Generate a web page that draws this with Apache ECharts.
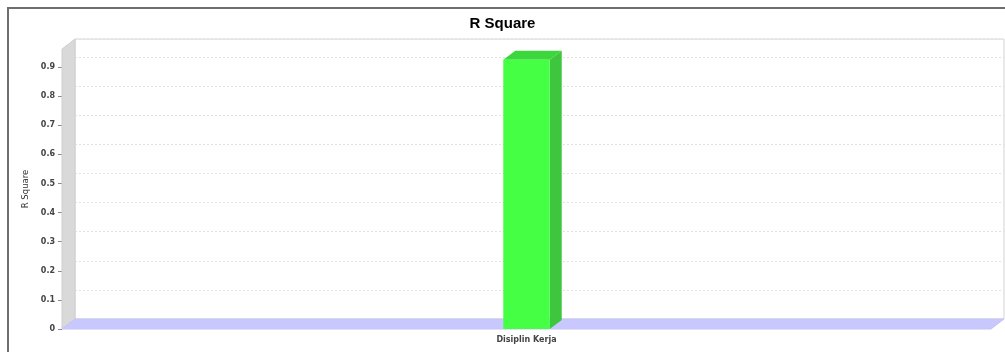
<!DOCTYPE html>
<html>
<head>
<meta charset="utf-8">
<style>html,body{margin:0;padding:0;background:#fff}#c{width:1005px;height:352px}</style>
<script src="https://cdn.jsdelivr.net/npm/echarts@6/dist/echarts.min.js"></script>
</head>
<body>
<div id="c"></div>
<script>
const chartTitle = 'R Square';
const axisTitle = 'R Square';
const categories = ['Disiplin Kerja'];
const rSquare = [0.925];
const yMin = 0;
const yMax = 0.962;
const yStep = 0.1;

const WALL_DX = 13, WALL_DY = 10;
const BAR_DX = 12, BAR_DY = 9;
const BAR_FRAC = 0.05;

const chart = echarts.init(document.getElementById('c'), null, {renderer: 'canvas'});

function renderWalls(params, api) {
  const cs = params.coordSys;
  const x = cs.x, y = cs.y, w = cs.width, h = cs.height;
  return {
    type: 'group',
    children: [
      { type: 'polygon', shape: { points: [[x, y], [x + WALL_DX, y - WALL_DY], [x + WALL_DX, y + h - WALL_DY], [x, y + h]] },
        style: { fill: '#d9d9d9', stroke: '#cfcfcf', lineWidth: 1 } },
      { type: 'polygon', shape: { points: [[x, y + h], [x + WALL_DX, y + h - WALL_DY], [x + w + WALL_DX, y + h - WALL_DY], [x + w, y + h]] },
        style: { fill: '#c8c8ff', stroke: '#c4c4f4', lineWidth: 1 } }
    ]
  };
}

function renderBar(params, api) {
  const cat = api.value(0);
  const top = api.coord([cat, api.value(1)]);
  const base = api.coord([cat, 0]);
  const w = api.size([1, 0])[0] * BAR_FRAC;
  const x0 = top[0] - w / 2;
  const t = top[1], b = base[1];
  return {
    type: 'group',
    children: [
      { type: 'polygon', shape: { points: [[x0 + w, t], [x0 + w + BAR_DX, t - BAR_DY], [x0 + w + BAR_DX, b - BAR_DY], [x0 + w, b]] },
        style: { fill: '#3ec63e' } },
      { type: 'polygon', shape: { points: [[x0, t], [x0 + BAR_DX, t - BAR_DY], [x0 + w + BAR_DX, t - BAR_DY], [x0 + w, t]] },
        style: { fill: '#3cd73c' } },
      { type: 'rect', shape: { x: x0, y: t, width: w, height: b - t },
        style: { fill: '#44ff44' } }
    ]
  };
}

const labelFont = { fontFamily: 'DejaVu Sans', fontSize: 8, color: '#444' };

chart.setOption({
  animation: false,
  backgroundColor: '#ffffff',
  title: {
    text: chartTitle, left: 'center', top: 11,
    textStyle: { fontFamily: 'Liberation Sans', fontWeight: 'bold', fontSize: 15, color: '#000' }
  },
  graphic: [
    { type: 'rect', silent: true, z: -1, shape: { x: 8, y: 8, width: 1020, height: 380 },
      style: { fill: 'none', stroke: '#6e6e6e', lineWidth: 2 } }
  ],
  grid: [
    { left: 62, right: 14, top: 49, bottom: 23, containLabel: false },
    { left: 62 + WALL_DX, right: 14 - WALL_DX, top: 49 - WALL_DY, bottom: 23 + WALL_DY, containLabel: false,
      show: true, backgroundColor: '#ffffff', borderColor: '#d4d4d4', borderWidth: 1, z: 0 }
  ],
  xAxis: [
    { type: 'category', gridIndex: 0, data: categories,
      axisLine: { show: false }, axisTick: { show: false },
      axisLabel: Object.assign({ margin: 7, fontWeight: 'bold' }, labelFont),
      splitLine: { show: false } },
    { type: 'category', gridIndex: 1, data: categories, show: false }
  ],
  yAxis: [
    { type: 'value', gridIndex: 0, min: yMin, max: yMax, interval: yStep,
      name: axisTitle, nameLocation: 'middle', nameGap: 32,
      nameTextStyle: { fontFamily: 'DejaVu Sans', fontSize: 8.5, color: '#333' },
      axisLine: { show: false },
      axisTick: { show: true, length: 4, lineStyle: { color: '#888' } },
      axisLabel: Object.assign({ margin: 7, showMaxLabel: false, fontWeight: 'bold' }, labelFont),
      splitLine: { show: false } },
    { type: 'value', gridIndex: 1, min: yMin, max: yMax, interval: yStep,
      axisLine: { show: false }, axisTick: { show: false }, axisLabel: { show: false },
      splitLine: { show: true, lineStyle: { color: '#e2e2e2', type: [2, 2], width: 1 } } }
  ],
  series: [
    { type: 'custom', name: 'walls', xAxisIndex: 0, yAxisIndex: 0, z: 3, silent: true,
      renderItem: renderWalls, data: [[0, 0]] },
    { type: 'custom', name: 'R Square', xAxisIndex: 0, yAxisIndex: 0, z: 5,
      renderItem: renderBar, data: categories.map((c, i) => [i, rSquare[i]]) }
  ]
});
</script>
</body>
</html>
